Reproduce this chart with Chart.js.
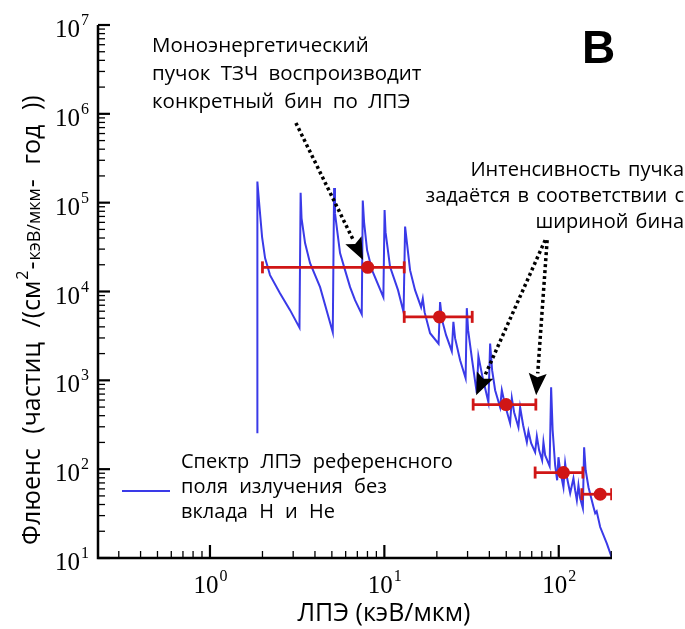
<!DOCTYPE html>
<html>
<head>
<meta charset="utf-8">
<script src="https://cdn.jsdelivr.net/npm/chart.js@4.4.0/dist/chart.umd.min.js"></script>
<style>
  html, body { margin: 0; padding: 0; background: #fff; }
</style>
</head>
<body>
<canvas id="canvas" width="685" height="629"></canvas>
<script>
// LET spectrum of the reference field (keV/um vs fluence)
const letX = [1.87, 1.87, 1.91, 1.99, 2.07, 2.21, 2.52, 2.88, 3.26,
  3.31, 3.35, 3.51, 3.75, 4.28, 5.06,
  5.15, 5.21, 5.57, 5.95, 6.36, 6.79, 7.42,
  7.52, 7.65, 7.96, 8.50, 9.87,
  10.03, 10.16, 10.78, 11.98, 12.89,
  13.15, 13.50, 14.04, 15.00, 16.24, 16.61, 17.01, 18.29, 20.46,
  20.87, 21.43, 22.59, 24.36,
  24.88, 25.44, 27.19, 29.24,
  29.70, 30.22, 31.86, 33.89,
  34.62, 36.36, 39.51,
  40.41, 41.49, 43.17, 46.12,
  47.16, 49.25, 52.62,
  53.82, 55.47, 58.72,
  60.06, 62.49, 65.62,
  67.03, 69.45, 73.20,
  74.87, 77.18, 80.30,
  81.70, 83.56, 88.65,
  90.42, 92.26, 95.35, 97.91,
  99.61, 101.9, 106.4,
  108.8, 111.7, 116.3,
  121.4, 124.2, 127.0,
  129.7, 132.7, 137.5,
  139.8, 142.7, 148.1, 158.2, 161.8, 165.0, 172.8, 188.8, 201.0];
const letFluence = [254, 172800, 104200, 40950, 23750, 15290, 9580, 6170, 3917,
  129200, 67000, 35050, 20860, 11200, 3485,
  146000, 76300, 27040, 17400, 11200, 7990, 5560,
  105500, 60450, 29230, 17400, 8640,
  82500, 46600, 18960, 10360, 5855,
  53800, 34150, 17400, 10360, 6660, 8310, 5855, 3396, 2586,
  7590, 4757, 3224, 2129,
  4550, 2983, 1686, 1057,
  6495, 3670, 1686, 716,
  1870, 1142, 567,
  2600, 1301, 774, 498,
  774, 525, 329,
  629, 438, 297,
  498, 312, 201,
  267, 196, 155,
  235, 163, 126,
  201, 143.5, 108,
  837, 274, 110.7, 75.0,
  136.2, 97.2, 62.6,
  116.6, 79.0, 53.6,
  79.0, 57.9, 44.7,
  65.9, 47.0, 36.3,
  176.6, 97.2, 62.6, 37.5, 31.9, 33.6, 22.3, 14.5, 10.2];

// monoenergetic beams: bin centre, bin edges, fluence
const binCenter = [8.03, 20.7, 49.9, 106.4, 172.8];
const binLow = [2.0, 13.0, 32.3, 73.2, 135.7];
const binHigh = [13.0, 31.9, 73.9, 137.5, 201.0];
const binFluence = [18700, 5180, 534, 91.6, 52.2];

// axis ticks (value, exponent label)
const xTicks = [1, 10, 100];
const xTickLabels = ["0", "1", "2"];
const yTicks = [10, 100, 1000, 10000, 100000, 1000000, 10000000];
const yTickLabels = ["1", "2", "3", "4", "5", "6", "7"];

// arrows [x0, y0, x1, y1] in data units
const arrows = [
  [3.11, 790000, 7.55, 22600],
  [83.6, 37900, 33.6, 680],
  [85.8, 37900, 74.2, 680]
];

const BLUE = "#3a3ae8";
const RED = "#d01616";
const SANS = '"Open Sans", sans-serif';
const SERIF = '"Liberation Serif", serif';

const spectrum = letX.map((x, i) => ({ x: x, y: letFluence[i] }));
const beams = binCenter.map((x, i) => ({ x: x, y: binFluence[i] }));
const errorBars = binLow.map((lo, i) => ({
  data: [{ x: lo, y: binFluence[i] }, { x: binHigh[i], y: binFluence[i] }],
  showLine: true,
  borderColor: RED,
  borderWidth: 2.8,
  pointStyle: "line",
  rotation: 90,
  pointRadius: 6,
  pointBorderWidth: 2.8,
  pointBorderColor: RED,
  order: 1
}));

function drawArrow(ctx, x0, y0, x1, y1) {
  const ang = Math.atan2(y1 - y0, x1 - x0);
  const len = 22, w = 9;
  const bx = x1 - len * Math.cos(ang), by = y1 - len * Math.sin(ang);
  ctx.save();
  ctx.strokeStyle = "#000";
  ctx.lineWidth = 3.5;
  ctx.setLineDash([3, 3]);
  ctx.beginPath();
  ctx.moveTo(x0, y0);
  ctx.lineTo(bx, by);
  ctx.stroke();
  ctx.setLineDash([]);
  ctx.fillStyle = "#000";
  ctx.beginPath();
  ctx.moveTo(x1, y1);
  ctx.lineTo(bx + w * Math.sin(ang), by - w * Math.cos(ang));
  ctx.lineTo(bx + 4 * Math.cos(ang), by + 4 * Math.sin(ang));
  ctx.lineTo(bx - w * Math.sin(ang), by + w * Math.cos(ang));
  ctx.closePath();
  ctx.fill();
  ctx.restore();
}

// "10" with a raised exponent; align = "center" or "right"
function powerLabel(ctx, px, py, exp, align) {
  ctx.font = "25px " + SERIF;
  const wb = ctx.measureText("10").width;
  ctx.font = "16px " + SERIF;
  const we = ctx.measureText(exp).width;
  const x0 = align === "right" ? px - wb - we : px - (wb + we) / 2;
  ctx.font = "25px " + SERIF;
  ctx.fillText("10", x0, py);
  ctx.font = "16px " + SERIF;
  ctx.fillText(exp, x0 + wb + 1, py - 12);
}

function textLines(ctx, lines, x, y0, step, spacing) {
  ctx.wordSpacing = spacing + "px";
  lines.forEach((t, i) => ctx.fillText(t, x, y0 + i * step));
  ctx.wordSpacing = "0px";
}

const decor = {
  id: "decor",
  afterDraw(chart) {
    const ctx = chart.ctx;
    const xs = chart.scales.x, ys = chart.scales.y, a = chart.chartArea;
    ctx.save();
    ctx.fillStyle = "#000";
    ctx.strokeStyle = "#000";
    ctx.textBaseline = "alphabetic";
    ctx.textAlign = "left";

    // axes
    ctx.lineWidth = 2.5;
    ctx.beginPath();
    ctx.moveTo(a.left, a.top);
    ctx.lineTo(a.left, a.bottom);
    ctx.lineTo(a.right, a.bottom);
    ctx.stroke();

    // inward ticks
    for (let e = -1; e <= 2; e++) {
      for (let k = 1; k <= 9; k++) {
        const v = k * Math.pow(10, e);
        if (v < xs.min || v > xs.max) continue;
        const px = xs.getPixelForValue(v);
        ctx.lineWidth = k === 1 ? 2.2 : 1.3;
        ctx.beginPath();
        ctx.moveTo(px, a.bottom);
        ctx.lineTo(px, a.bottom - (k === 1 ? 13 : 7));
        ctx.stroke();
      }
    }
    for (let e = 1; e <= 7; e++) {
      for (let k = 1; k <= 9; k++) {
        const v = k * Math.pow(10, e);
        if (v > ys.max) continue;
        const py = ys.getPixelForValue(v);
        ctx.lineWidth = k === 1 ? 2.2 : 1.3;
        ctx.beginPath();
        ctx.moveTo(a.left, py);
        ctx.lineTo(a.left + (k === 1 ? 12 : 7), py);
        ctx.stroke();
      }
    }

    // tick labels
    xTicks.forEach((v, i) => powerLabel(ctx, xs.getPixelForValue(v), a.bottom + 35, xTickLabels[i], "center"));
    yTicks.forEach((v, i) => powerLabel(ctx, 88, ys.getPixelForValue(v) + 12, yTickLabels[i], "right"));

    // axis titles
    ctx.font = "25px " + SANS;
    ctx.textAlign = "center";
    ctx.fillText("ЛПЭ (кэВ/мкм)", 384, 621);
    ctx.textAlign = "left";

    ctx.save();
    ctx.translate(40, 545);
    ctx.rotate(-Math.PI / 2);
    const parts = [
      ["Флюенс (частиц /(см", 25, 0],
      ["2", 16, -12],
      ["-", 25, 0],
      ["кэВ/мкм", 18, 0],
      ["- год ))", 25, 0]
    ];
    ctx.wordSpacing = "8px";
    let tx = 0;
    parts.forEach(p => {
      ctx.font = p[1] + "px " + SANS;
      ctx.fillText(p[0], tx, p[2]);
      tx += ctx.measureText(p[0]).width + 1;
    });
    ctx.wordSpacing = "0px";
    ctx.restore();

    // annotations
    ctx.font = "20.5px " + SANS;
    textLines(ctx, ["Моноэнергетический", "пучок ТЗЧ воспроизводит", "конкретный бин по ЛПЭ"], 152, 52, 28, 5);
    ctx.font = "20px " + SANS;
    ctx.textAlign = "right";
    textLines(ctx, ["Интенсивность пучка", "задаётся в соответствии с", "шириной бина"], 684, 176, 26, 2);
    ctx.textAlign = "left";

    ctx.font = "bold 46px " + '"Liberation Sans", sans-serif';
    ctx.fillText("B", 582, 63);

    arrows.forEach(r => drawArrow(ctx,
      xs.getPixelForValue(r[0]), ys.getPixelForValue(r[1]),
      xs.getPixelForValue(r[2]), ys.getPixelForValue(r[3])));

    // legend
    ctx.strokeStyle = BLUE;
    ctx.lineWidth = 2.2;
    ctx.beginPath();
    ctx.moveTo(122, 491);
    ctx.lineTo(170, 491);
    ctx.stroke();
    ctx.font = "20px " + SANS;
    textLines(ctx, ["Спектр ЛПЭ референсного", "поля излучения без", "вклада H и He"], 181, 468, 25, 6);

    ctx.restore();
  }
};

new Chart(document.getElementById("canvas").getContext("2d"), {
  type: "scatter",
  data: {
    datasets: [
      {
        data: beams,
        pointRadius: 6.5,
        pointBackgroundColor: RED,
        pointBorderColor: RED,
        pointBorderWidth: 0,
        order: 0
      },
      ...errorBars,
      {
        data: spectrum,
        showLine: true,
        borderColor: BLUE,
        borderWidth: 2,
        pointRadius: 0,
        order: 2
      }
    ]
  },
  options: {
    responsive: false,
    animation: false,
    layout: { padding: { left: 98, top: 25, right: 73, bottom: 71 } },
    plugins: { legend: { display: false }, tooltip: { enabled: false } },
    scales: {
      x: { type: "logarithmic", min: 0.228, max: 202, display: false },
      y: { type: "logarithmic", min: 10, max: 10000000, display: false }
    }
  },
  plugins: [decor]
});
</script>
</body>
</html>
